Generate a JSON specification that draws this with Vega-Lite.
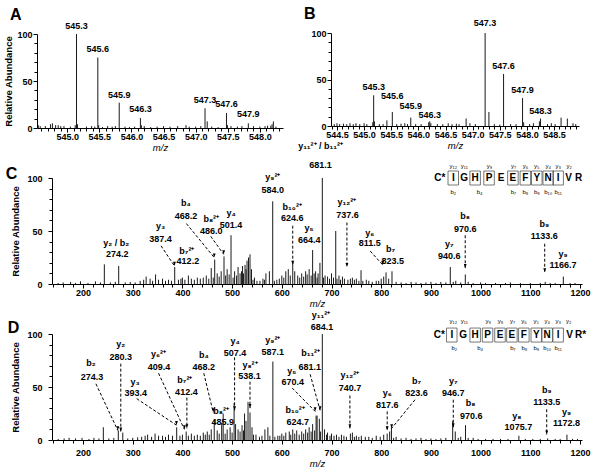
{
"$schema":"https://vega.github.io/schema/vega-lite/v6.json",
"width":600,"height":471,"autosize":{"type":"none"},"padding":0,
"config":{"font":"Liberation Sans","view":{"stroke":null},"axis":{"grid":false,"domainColor":"#000","tickColor":"#000","labelColor":"#000","titleColor":"#000","labelFontSize":9,"labelFontWeight":"bold","titleFontSize":9.5,"titleFontWeight":"bold","labelFlush":false,"labelOverlap":false,"tickSize":4,"domainWidth":1,"tickWidth":1}},
"datasets":{
"pa":[{"mz":545.145,"ab":100},{"mz":545.16,"ab":4},{"mz":545.125,"ab":3},{"mz":545.477,"ab":75},{"mz":545.49,"ab":3},{"mz":545.81,"ab":27},{"mz":546.14,"ab":10.6},{"mz":546.155,"ab":3},{"mz":547.146,"ab":21},{"mz":547.18,"ab":7},{"mz":547.48,"ab":16},{"mz":547.495,"ab":3},{"mz":547.82,"ab":5},{"mz":548.21,"ab":7},{"mz":548.19,"ab":4},{"mz":548.17,"ab":2.5},{"mz":544.55,"ab":3},{"mz":544.58,"ab":2},{"mz":544.66,"ab":2},{"mz":544.74,"ab":4},{"mz":544.77,"ab":5},{"mz":544.82,"ab":3},{"mz":544.86,"ab":3},{"mz":544.9,"ab":2},{"mz":544.95,"ab":2},{"mz":545.05,"ab":1.5},{"mz":545.3,"ab":1.5},{"mz":545.38,"ab":2},{"mz":545.43,"ab":1.5},{"mz":545.55,"ab":1},{"mz":545.63,"ab":2},{"mz":545.7,"ab":1.5},{"mz":545.75,"ab":2},{"mz":545.9,"ab":1.5},{"mz":545.97,"ab":1},{"mz":546.05,"ab":1.5},{"mz":546.2,"ab":2},{"mz":546.3,"ab":1},{"mz":546.4,"ab":1.5},{"mz":546.5,"ab":2},{"mz":546.6,"ab":1.5},{"mz":546.72,"ab":2},{"mz":546.85,"ab":3},{"mz":546.9,"ab":1.5},{"mz":547.0,"ab":1.5},{"mz":547.08,"ab":2},{"mz":547.25,"ab":1.5},{"mz":547.35,"ab":1},{"mz":547.55,"ab":2},{"mz":547.65,"ab":1.5},{"mz":547.72,"ab":2},{"mz":547.9,"ab":2},{"mz":548.0,"ab":1.5},{"mz":548.08,"ab":2},{"mz":548.12,"ab":2.5},{"mz":548.25,"ab":1.5}],
"pb":[{"mz":545.176,"ab":33},{"mz":545.19,"ab":5},{"mz":545.16,"ab":4},{"mz":545.42,"ab":6},{"mz":545.52,"ab":15},{"mz":545.86,"ab":9},{"mz":546.21,"ab":5},{"mz":546.19,"ab":4},{"mz":546.23,"ab":3},{"mz":546.88,"ab":8},{"mz":547.23,"ab":100},{"mz":547.3,"ab":15},{"mz":547.57,"ab":56},{"mz":547.92,"ab":30},{"mz":547.94,"ab":4},{"mz":548.25,"ab":8},{"mz":548.23,"ab":5},{"mz":548.63,"ab":9},{"mz":548.745,"ab":8},{"mz":544.45,"ab":2},{"mz":544.5,"ab":3},{"mz":544.55,"ab":2},{"mz":544.62,"ab":2.5},{"mz":544.68,"ab":2},{"mz":544.74,"ab":3},{"mz":544.8,"ab":2},{"mz":544.85,"ab":3},{"mz":544.92,"ab":2},{"mz":545.0,"ab":3},{"mz":545.05,"ab":2},{"mz":545.28,"ab":2},{"mz":545.35,"ab":2},{"mz":545.6,"ab":2},{"mz":545.68,"ab":2.5},{"mz":545.75,"ab":3},{"mz":545.8,"ab":2},{"mz":545.95,"ab":2},{"mz":546.05,"ab":2},{"mz":546.35,"ab":2},{"mz":546.45,"ab":2},{"mz":546.55,"ab":3},{"mz":546.62,"ab":2},{"mz":546.7,"ab":2.5},{"mz":546.75,"ab":2},{"mz":546.95,"ab":3},{"mz":547.05,"ab":2},{"mz":547.4,"ab":2},{"mz":547.5,"ab":1.5},{"mz":547.7,"ab":2},{"mz":547.8,"ab":2},{"mz":548.05,"ab":2},{"mz":548.12,"ab":3},{"mz":548.38,"ab":2},{"mz":548.45,"ab":3},{"mz":548.52,"ab":2},{"mz":548.85,"ab":3},{"mz":548.9,"ab":2}],
"pc":[{"mz":150,"ab":1},{"mz":160,"ab":1.5},{"mz":175,"ab":2},{"mz":185,"ab":1},{"mz":195,"ab":2.5},{"mz":210,"ab":1},{"mz":225,"ab":2.5},{"mz":235,"ab":1.5},{"mz":242.9,"ab":18.5},{"mz":255,"ab":1.5},{"mz":265,"ab":2},{"mz":271.8,"ab":17},{"mz":285,"ab":1.5},{"mz":295,"ab":2},{"mz":305,"ab":1.5},{"mz":315,"ab":3},{"mz":322,"ab":4},{"mz":327,"ab":7},{"mz":335,"ab":5},{"mz":340,"ab":3},{"mz":346,"ab":9},{"mz":352,"ab":4},{"mz":360,"ab":5},{"mz":366,"ab":3},{"mz":372,"ab":4},{"mz":378,"ab":3},{"mz":384.5,"ab":16},{"mz":392,"ab":4},{"mz":397,"ab":5},{"mz":400,"ab":6},{"mz":405,"ab":4},{"mz":412,"ab":8},{"mz":418,"ab":5},{"mz":424,"ab":4},{"mz":430,"ab":6},{"mz":436,"ab":5},{"mz":442,"ab":6},{"mz":448,"ab":8},{"mz":453,"ab":5},{"mz":458,"ab":15},{"mz":462,"ab":6},{"mz":465,"ab":23},{"mz":470,"ab":10},{"mz":474,"ab":7},{"mz":478,"ab":12},{"mz":483.7,"ab":26},{"mz":487,"ab":8},{"mz":490,"ab":14},{"mz":494,"ab":9},{"mz":497.8,"ab":46},{"mz":502,"ab":6},{"mz":505,"ab":12},{"mz":509,"ab":8},{"mz":512,"ab":16},{"mz":516,"ab":10},{"mz":519,"ab":12},{"mz":521,"ab":17},{"mz":523,"ab":10},{"mz":526,"ab":18},{"mz":528,"ab":14},{"mz":530,"ab":22},{"mz":533,"ab":25},{"mz":536,"ab":28},{"mz":539,"ab":14},{"mz":542,"ab":4},{"mz":545,"ab":6},{"mz":550,"ab":3},{"mz":556,"ab":3},{"mz":562,"ab":5},{"mz":565,"ab":4},{"mz":568,"ab":10},{"mz":575,"ab":12},{"mz":581.7,"ab":78},{"mz":585,"ab":3},{"mz":590,"ab":4},{"mz":595,"ab":5},{"mz":600,"ab":8},{"mz":604,"ab":6},{"mz":608,"ab":12},{"mz":613,"ab":14},{"mz":617,"ab":8},{"mz":622,"ab":20},{"mz":626,"ab":12},{"mz":632,"ab":8},{"mz":636,"ab":6},{"mz":640,"ab":10},{"mz":644,"ab":7},{"mz":648,"ab":12},{"mz":651,"ab":9},{"mz":655,"ab":14},{"mz":659,"ab":8},{"mz":662,"ab":32},{"mz":665,"ab":10},{"mz":668,"ab":12},{"mz":671,"ab":6},{"mz":673,"ab":10},{"mz":676.7,"ab":20},{"mz":681.5,"ab":100},{"mz":684,"ab":6},{"mz":687,"ab":8},{"mz":692,"ab":7},{"mz":696,"ab":5},{"mz":700,"ab":10},{"mz":704,"ab":6},{"mz":708.5,"ab":50},{"mz":711,"ab":5},{"mz":715,"ab":8},{"mz":718,"ab":4},{"mz":722,"ab":7},{"mz":726,"ab":5},{"mz":733,"ab":4},{"mz":738,"ab":5},{"mz":742,"ab":6},{"mz":746,"ab":4},{"mz":750,"ab":5},{"mz":755,"ab":3},{"mz":759.4,"ab":13},{"mz":763,"ab":3},{"mz":770,"ab":4},{"mz":775,"ab":3},{"mz":782,"ab":2},{"mz":790,"ab":3},{"mz":795,"ab":3},{"mz":800,"ab":5},{"mz":805,"ab":7},{"mz":809.7,"ab":11},{"mz":815,"ab":5},{"mz":821.7,"ab":12},{"mz":830,"ab":2},{"mz":840,"ab":1.5},{"mz":850,"ab":1},{"mz":860,"ab":2},{"mz":870,"ab":1.5},{"mz":880,"ab":1},{"mz":890,"ab":1.5},{"mz":900,"ab":2},{"mz":910,"ab":1},{"mz":920,"ab":2},{"mz":930,"ab":1.5},{"mz":939,"ab":16},{"mz":945,"ab":2},{"mz":950,"ab":3},{"mz":960,"ab":1.5},{"mz":969.2,"ab":9},{"mz":975,"ab":2},{"mz":985,"ab":1},{"mz":1000,"ab":1.5},{"mz":1010,"ab":1},{"mz":1030,"ab":1},{"mz":1050,"ab":1},{"mz":1060,"ab":1.5},{"mz":1080,"ab":1},{"mz":1100,"ab":1},{"mz":1120,"ab":1},{"mz":1130,"ab":2},{"mz":1140,"ab":1},{"mz":1150,"ab":1},{"mz":1166.4,"ab":7},{"mz":1180,"ab":1},{"mz":1190,"ab":1}],
"pd":[{"mz":150,"ab":1},{"mz":162,"ab":1.5},{"mz":172,"ab":2},{"mz":185,"ab":1.5},{"mz":198,"ab":2},{"mz":212,"ab":1},{"mz":222,"ab":2},{"mz":232,"ab":1.5},{"mz":240.9,"ab":12},{"mz":252,"ab":1.5},{"mz":262,"ab":2},{"mz":271,"ab":9},{"mz":280,"ab":7},{"mz":290,"ab":1.5},{"mz":300,"ab":2},{"mz":310,"ab":2.5},{"mz":318,"ab":3},{"mz":325,"ab":4},{"mz":330,"ab":5},{"mz":338,"ab":3},{"mz":345,"ab":6},{"mz":352,"ab":4},{"mz":360,"ab":4},{"mz":366,"ab":3},{"mz":372,"ab":5},{"mz":380,"ab":4},{"mz":388.5,"ab":12},{"mz":395,"ab":4},{"mz":400,"ab":5},{"mz":407.6,"ab":8},{"mz":412,"ab":4},{"mz":418,"ab":6},{"mz":424,"ab":4},{"mz":430,"ab":5},{"mz":436,"ab":4},{"mz":442,"ab":7},{"mz":446,"ab":5},{"mz":450,"ab":8},{"mz":454,"ab":5},{"mz":458,"ab":10},{"mz":464,"ab":19},{"mz":470,"ab":9},{"mz":474,"ab":6},{"mz":479,"ab":16},{"mz":482,"ab":25},{"mz":486,"ab":6},{"mz":490,"ab":10},{"mz":496,"ab":12},{"mz":500,"ab":7},{"mz":504,"ab":35},{"mz":507,"ab":15},{"mz":512,"ab":10},{"mz":516,"ab":8},{"mz":520,"ab":14},{"mz":523,"ab":9},{"mz":525,"ab":25},{"mz":528,"ab":18},{"mz":532,"ab":36},{"mz":536,"ab":26},{"mz":540,"ab":12},{"mz":543,"ab":5},{"mz":548,"ab":5},{"mz":555,"ab":3},{"mz":560,"ab":4},{"mz":566,"ab":10},{"mz":572,"ab":12},{"mz":576,"ab":4},{"mz":582,"ab":74},{"mz":586,"ab":3},{"mz":592,"ab":4},{"mz":596,"ab":4},{"mz":600,"ab":6},{"mz":604,"ab":4},{"mz":608,"ab":7},{"mz":615,"ab":8},{"mz":618,"ab":5},{"mz":622,"ab":10},{"mz":626,"ab":6},{"mz":630,"ab":9},{"mz":635,"ab":5},{"mz":640,"ab":8},{"mz":644,"ab":6},{"mz":648,"ab":10},{"mz":652,"ab":7},{"mz":655,"ab":12},{"mz":659,"ab":8},{"mz":662,"ab":15},{"mz":666,"ab":9},{"mz":669,"ab":23},{"mz":671,"ab":23},{"mz":675.5,"ab":20},{"mz":678,"ab":8},{"mz":681.5,"ab":100},{"mz":686,"ab":10},{"mz":690,"ab":5},{"mz":692,"ab":7},{"mz":697,"ab":4},{"mz":700,"ab":6},{"mz":705,"ab":4},{"mz":710,"ab":5},{"mz":715,"ab":3},{"mz":720,"ab":5},{"mz":725,"ab":4},{"mz":730,"ab":3},{"mz":738,"ab":6},{"mz":742,"ab":7},{"mz":746,"ab":3},{"mz":750,"ab":4},{"mz":755,"ab":3},{"mz":760,"ab":4},{"mz":768,"ab":3},{"mz":775,"ab":3},{"mz":782,"ab":2},{"mz":790,"ab":4},{"mz":798,"ab":3},{"mz":805,"ab":5},{"mz":812,"ab":6},{"mz":817,"ab":8},{"mz":820.6,"ab":12},{"mz":825,"ab":2},{"mz":830,"ab":3},{"mz":840,"ab":1.5},{"mz":850,"ab":2},{"mz":860,"ab":1},{"mz":870,"ab":1.5},{"mz":880,"ab":2},{"mz":890,"ab":1},{"mz":900,"ab":1.5},{"mz":910,"ab":1},{"mz":920,"ab":1.5},{"mz":930,"ab":2},{"mz":943.8,"ab":18},{"mz":949,"ab":8},{"mz":955,"ab":2},{"mz":960,"ab":3},{"mz":969.6,"ab":14},{"mz":975,"ab":2},{"mz":985,"ab":2},{"mz":995,"ab":1},{"mz":1010,"ab":1},{"mz":1025,"ab":1},{"mz":1040,"ab":1},{"mz":1055,"ab":1},{"mz":1077,"ab":4},{"mz":1090,"ab":1},{"mz":1105,"ab":1},{"mz":1120,"ab":1},{"mz":1135,"ab":1.5},{"mz":1150,"ab":1},{"mz":1160,"ab":1},{"mz":1173.7,"ab":5},{"mz":1185,"ab":1},{"mz":1195,"ab":1}],
"la":[{"x":545.145,"y":108.5,"t":"545.3"},{"x":545.477,"y":83.7,"t":"545.6"},{"x":545.81,"y":35,"t":"545.9"},{"x":546.14,"y":19.9,"t":"546.3"},{"x":547.146,"y":29.8,"t":"547.3"},{"x":547.48,"y":25.2,"t":"547.6"},{"x":547.82,"y":14.5,"t":"547.9"},{"x":544.2,"y":120,"t":"A","p":1}],
"lb":[{"x":547.23,"y":110.8,"t":"547.3"},{"x":547.57,"y":64.8,"t":"547.6"},{"x":547.92,"y":39,"t":"547.9"},{"x":545.176,"y":42,"t":"545.3"},{"x":545.52,"y":32,"t":"545.6"},{"x":545.86,"y":21.2,"t":"545.9"},{"x":546.21,"y":12.2,"t":"546.3"},{"x":548.25,"y":15.8,"t":"548.3"},{"x":544.0,"y":120,"t":"B","p":1}],
"lc":[{"x":267,"y":39,"t":"y₂ / b₂"},{"x":269,"y":28,"t":"274.2"},{"x":356,"y":54.7,"t":"y₃"},{"x":356,"y":42,"t":"387.4"},{"x":409,"y":31.4,"t":"b₇²⁺"},{"x":411,"y":22,"t":"412.2"},{"x":407,"y":76,"t":"b₄"},{"x":407,"y":64,"t":"468.2"},{"x":458,"y":61,"t":"b₈²⁺"},{"x":458,"y":50,"t":"486.0"},{"x":498,"y":67,"t":"y₄"},{"x":498,"y":55.6,"t":"501.4"},{"x":582,"y":101,"t":"y₉²⁺"},{"x":582,"y":89,"t":"584.0"},{"x":621,"y":73,"t":"b₁₀²⁺"},{"x":621,"y":62,"t":"624.6"},{"x":655,"y":52.5,"t":"y₅"},{"x":655,"y":41.5,"t":"664.4"},{"x":678,"y":130,"t":"y₁₁²⁺ / b₁₁²⁺"},{"x":678,"y":112,"t":"681.1"},{"x":731,"y":77,"t":"y₁₂²⁺"},{"x":732,"y":65.5,"t":"737.6"},{"x":777,"y":48.4,"t":"y₆"},{"x":777,"y":38.5,"t":"811.5"},{"x":819,"y":33,"t":"b₇"},{"x":823,"y":21.8,"t":"823.5"},{"x":937,"y":37.5,"t":"y₇"},{"x":937,"y":26.4,"t":"940.6"},{"x":969,"y":64.5,"t":"b₈"},{"x":969,"y":52.3,"t":"970.6"},{"x":1128,"y":57,"t":"b₉"},{"x":1128,"y":45,"t":"1133.6"},{"x":1166,"y":28.7,"t":"y₉"},{"x":1166,"y":18.3,"t":"1166.7"},{"x":56,"y":104,"t":"C","p":1}],
"ld":[{"x":216,"y":73,"t":"b₂"},{"x":218,"y":59,"t":"274.3"},{"x":276,"y":90.3,"t":"y₂"},{"x":276,"y":78.3,"t":"280.3"},{"x":305,"y":55,"t":"y₃"},{"x":306,"y":44,"t":"393.4"},{"x":352,"y":80.7,"t":"y₆²⁺"},{"x":353,"y":69,"t":"409.4"},{"x":405,"y":56.6,"t":"b₇²⁺"},{"x":408,"y":45,"t":"412.4"},{"x":443,"y":80.5,"t":"b₄"},{"x":443,"y":69,"t":"468.2"},{"x":478,"y":27.7,"t":"b₈²⁺"},{"x":481,"y":17.3,"t":"485.9"},{"x":506,"y":93,"t":"y₄"},{"x":506,"y":82,"t":"507.4"},{"x":536,"y":71,"t":"y₈²⁺"},{"x":535,"y":60.5,"t":"538.1"},{"x":582,"y":94,"t":"y₉²⁺"},{"x":582,"y":83,"t":"587.1"},{"x":620,"y":65,"t":"y₅"},{"x":622,"y":54.4,"t":"670.4"},{"x":627,"y":28.3,"t":"b₁₀²⁺"},{"x":632,"y":17.3,"t":"624.7"},{"x":658,"y":81.8,"t":"b₁₁²⁺"},{"x":656,"y":68.6,"t":"681.1"},{"x":679,"y":118,"t":"y₁₁²⁺"},{"x":681,"y":106.3,"t":"684.1"},{"x":737,"y":61.5,"t":"y₁₂²⁺"},{"x":737,"y":48.8,"t":"740.7"},{"x":812,"y":44,"t":"y₆"},{"x":812,"y":33,"t":"817.6"},{"x":871,"y":56,"t":"b₇"},{"x":871,"y":44.6,"t":"823.6"},{"x":945,"y":56,"t":"y₇"},{"x":945,"y":44.6,"t":"946.7"},{"x":980,"y":34.6,"t":"b₈"},{"x":981,"y":22.6,"t":"970.6"},{"x":1073,"y":22.6,"t":"y₈"},{"x":1076,"y":12,"t":"1075.7"},{"x":1133,"y":47.2,"t":"b₉"},{"x":1133,"y":35.6,"t":"1133.5"},{"x":1173,"y":26.7,"t":"y₉"},{"x":1173,"y":15.7,"t":"1172.8"},{"x":60,"y":106,"t":"D","p":1}],
"ac":[{"x1":357,"y1":36,"x2":384,"y2":17},{"x1":408,"y1":57,"x2":464,"y2":25},{"x1":457,"y1":45,"x2":483,"y2":28},{"x1":622,"y1":55,"x2":622,"y2":18},{"x1":731,"y1":58,"x2":731,"y2":16},{"x1":778,"y1":31,"x2":803,"y2":18},{"x1":969,"y1":46,"x2":969,"y2":15},{"x1":1129,"y1":38,"x2":1129,"y2":11}],
"ad":[{"x1":226,"y1":53,"x2":270,"y2":9},{"x1":276,"y1":72,"x2":276,"y2":8},{"x1":308,"y1":39,"x2":388,"y2":14},{"x1":352,"y1":63,"x2":404,"y2":10},{"x1":409,"y1":40,"x2":409,"y2":11},{"x1":443,"y1":63,"x2":462,"y2":26},{"x1":505,"y1":78,"x2":505,"y2":28},{"x1":536,"y1":55,"x2":536,"y2":30},{"x1":621,"y1":49,"x2":667,"y2":27},{"x1":657,"y1":62,"x2":677,"y2":28},{"x1":737,"y1":42,"x2":737,"y2":11},{"x1":812,"y1":27,"x2":812,"y2":9},{"x1":868,"y1":38,"x2":821,"y2":11},{"x1":945,"y1":38,"x2":945,"y2":12},{"x1":1133,"y1":29,"x2":1133,"y2":5}],
"sc":[{"x":918,"t":"C*","b":false},{"x":945,"t":"I","b":true},{"x":967,"t":"G","b":false},{"x":989,"t":"H","b":true},{"x":1017,"t":"P","b":true},{"x":1041,"t":"E","b":false},{"x":1065,"t":"E","b":true},{"x":1090,"t":"F","b":true},{"x":1113,"t":"Y","b":true},{"x":1136,"t":"N","b":true},{"x":1156,"t":"I","b":true},{"x":1177,"t":"V","b":false},{"x":1197,"t":"R","b":false}],
"sd":[{"x":917,"t":"C*","b":false},{"x":942,"t":"I","b":true},{"x":965,"t":"G","b":false},{"x":989,"t":"H","b":true},{"x":1014,"t":"P","b":true},{"x":1039,"t":"E","b":true},{"x":1063,"t":"E","b":true},{"x":1087,"t":"F","b":true},{"x":1112,"t":"Y","b":true},{"x":1134,"t":"N","b":true},{"x":1156,"t":"I","b":true},{"x":1179,"t":"V","b":false},{"x":1201,"t":"R*","b":false}],
"tc":[{"x":945,"y":111,"t":"y₁₂"},{"x":967,"y":111,"t":"y₁₁"},{"x":1018,"y":111,"t":"y₉"},{"x":1066,"y":111,"t":"y₇"},{"x":1090,"y":111,"t":"y₆"},{"x":1113,"y":111,"t":"y₅"},{"x":1136,"y":111,"t":"y₄"},{"x":1156,"y":111,"t":"y₃"},{"x":1178,"y":111,"t":"y₂"},{"x":945,"y":86.5,"t":"b₂"},{"x":998,"y":86.5,"t":"b₄"},{"x":1066,"y":86.5,"t":"b₇"},{"x":1090,"y":86.5,"t":"b₈"},{"x":1113,"y":86.5,"t":"b₉"},{"x":1136,"y":86.5,"t":"b₁₀"},{"x":1156,"y":86.5,"t":"b₁₁"}],
"td":[{"x":945,"y":112,"t":"y₁₂"},{"x":967,"y":112,"t":"y₁₁"},{"x":1015,"y":112,"t":"y₉"},{"x":1040,"y":112,"t":"y₈"},{"x":1064,"y":112,"t":"y₇"},{"x":1087,"y":112,"t":"y₆"},{"x":1112,"y":112,"t":"y₅"},{"x":1134,"y":112,"t":"y₄"},{"x":1156,"y":112,"t":"y₃"},{"x":1177,"y":112,"t":"y₂"},{"x":947,"y":87,"t":"b₂"},{"x":999,"y":87,"t":"b₄"},{"x":1065,"y":87,"t":"b₇"},{"x":1088,"y":87,"t":"b₈"},{"x":1112,"y":87,"t":"b₉"},{"x":1134,"y":87,"t":"b₁₀"},{"x":1156,"y":87,"t":"b₁₁"}]
},
"resolve":{"scale":{"x":"independent","y":"independent"},"axis":{"x":"independent","y":"independent"}},
"layer":[
 {"resolve":{"axis":{"x":"independent","y":"independent"}},"layer":[
  {"data":{"name":"pa"},"mark":{"type":"rule","color":"#1a1a1a","strokeWidth":1},"encoding":{
   "x":{"field":"mz","type":"quantitative","scale":{"domain":[544.53,548.36],"range":[37,283],"nice":false,"zero":false},"axis":{"orient":"bottom","offset":-343,"title":"m/z","titleFontStyle":"italic","titleFontWeight":"normal","titlePadding":1,"labelPadding":0,"values":[545,545.5,546,546.5,547,547.5,548],"format":".1f"}},
   "y":{"field":"ab","type":"quantitative","scale":{"domain":[0,100],"range":[128,34],"nice":false},"axis":{"orient":"left","offset":-37,"title":"Relative Abundance","titlePadding":3,"labelPadding":1,"values":[0,50,100]}},
   "y2":{"datum":0}}},
  {"data":{"name":"la"},"transform":[{"filter":"!datum.p"}],"mark":{"type":"text","fontSize":9,"fontWeight":"bold"},"encoding":{"x":{"field":"x","type":"quantitative","axis":{"orient":"bottom","offset":-343,"title":null,"labels":false,"domain":false,"tickSize":3,"values":[544.6,544.7,544.8,544.9,545.1,545.2,545.3,545.4,545.6,545.7,545.8,545.9,546.1,546.2,546.3,546.4,546.6,546.7,546.8,546.9,547.1,547.2,547.3,547.4,547.6,547.7,547.8,547.9,548.1,548.2,548.3]}},"y":{"field":"y","type":"quantitative","axis":{"orient":"left","offset":-37,"title":null,"labels":false,"domain":false,"tickSize":3,"values":[10,20,30,40,60,70,80,90]}},"text":{"field":"t"}}},
  {"data":{"name":"la"},"transform":[{"filter":"datum.p"}],"mark":{"type":"text","fontSize":16,"fontWeight":"bold"},"encoding":{"x":{"field":"x","type":"quantitative","axis":null},"y":{"field":"y","type":"quantitative","axis":null},"text":{"field":"t"}}}
 ]},
 {"resolve":{"axis":{"x":"independent","y":"independent"}},"layer":[
  {"data":{"name":"pb"},"mark":{"type":"rule","color":"#1a1a1a","strokeWidth":1},"encoding":{
   "x":{"field":"mz","type":"quantitative","scale":{"domain":[544.39,548.96],"range":[331,579],"nice":false,"zero":false},"axis":{"orient":"bottom","offset":-345,"title":"m/z","titleFontStyle":"italic","titleFontWeight":"normal","titlePadding":1,"labelPadding":0,"values":[544.5,545,545.5,546,546.5,547,547.5,548,548.5],"format":".1f"}},
   "y":{"field":"ab","type":"quantitative","scale":{"domain":[0,100],"range":[126,33],"nice":false},"axis":{"orient":"left","offset":-331,"title":null,"labelPadding":1,"values":[0,50,100]}},
   "y2":{"datum":0}}},
  {"data":{"name":"lb"},"transform":[{"filter":"!datum.p"}],"mark":{"type":"text","fontSize":9,"fontWeight":"bold"},"encoding":{"x":{"field":"x","type":"quantitative","axis":{"orient":"bottom","offset":-345,"title":null,"labels":false,"domain":false,"tickSize":3,"values":[544.4,544.6,544.7,544.8,544.9,545.1,545.2,545.3,545.4,545.6,545.7,545.8,545.9,546.1,546.2,546.3,546.4,546.6,546.7,546.8,546.9,547.1,547.2,547.3,547.4,547.6,547.7,547.8,547.9,548.1,548.2,548.3,548.4,548.6,548.7,548.8,548.9]}},"y":{"field":"y","type":"quantitative","axis":{"orient":"left","offset":-331,"title":null,"labels":false,"domain":false,"tickSize":3,"values":[10,20,30,40,60,70,80,90]}},"text":{"field":"t"}}},
  {"data":{"name":"lb"},"transform":[{"filter":"datum.p"}],"mark":{"type":"text","fontSize":16,"fontWeight":"bold"},"encoding":{"x":{"field":"x","type":"quantitative","axis":null},"y":{"field":"y","type":"quantitative","axis":null},"text":{"field":"t"}}}
 ]},
 {"resolve":{"axis":{"x":"independent","y":"independent"}},"layer":[
  {"data":{"name":"pc"},"mark":{"type":"rule","color":"#1a1a1a","strokeWidth":1},"encoding":{
   "x":{"field":"mz","type":"quantitative","scale":{"domain":[137.6,1204],"range":[52,582],"nice":false,"zero":false},"axis":{"orient":"bottom","offset":-187,"title":"m/z","titleFontStyle":"italic","titleFontWeight":"normal","titlePadding":1,"labelPadding":0,"values":[200,300,400,500,600,700,800,900,1000,1100,1200],"format":"d"}},
   "y":{"field":"ab","type":"quantitative","scale":{"domain":[0,100],"range":[284,178],"nice":false},"axis":{"orient":"left","offset":-52,"title":"Relative Abundance","titlePadding":6,"labelPadding":6,"values":[0,50,100]}},
   "y2":{"datum":0}}},
  {"data":{"name":"lc"},"transform":[{"filter":"!datum.p"}],"mark":{"type":"text","fontSize":9,"fontWeight":"bold"},"encoding":{"x":{"field":"x","type":"quantitative","axis":{"orient":"bottom","offset":-187,"title":null,"labels":false,"domain":false,"tickSize":3,"values":[140,160,180,220,240,260,280,320,340,360,380,420,440,460,480,520,540,560,580,620,640,660,680,720,740,760,780,820,840,860,880,920,940,960,980,1020,1040,1060,1080,1120,1140,1160,1180]}},"y":{"field":"y","type":"quantitative","axis":{"orient":"left","offset":-52,"title":null,"labels":false,"domain":false,"tickSize":3,"values":[10,20,30,40,60,70,80,90]}},"text":{"field":"t"}}},
  {"data":{"name":"ac"},"mark":{"type":"rule","color":"#000","strokeWidth":1,"strokeDash":[3,2]},"encoding":{"x":{"field":"x1","type":"quantitative","axis":null},"y":{"field":"y1","type":"quantitative","axis":null},"x2":{"field":"x2"},"y2":{"field":"y2"}}},
  {"data":{"name":"ac"},"mark":{"type":"point","shape":"M0,0L-0.45,-1.3L0.45,-1.3Z","filled":true,"color":"#000","opacity":1,"size":40},"encoding":{"x":{"field":"x2","type":"quantitative","axis":null},"y":{"field":"y2","type":"quantitative","axis":null}}},
  {"data":{"name":"lc"},"transform":[{"filter":"datum.p"}],"mark":{"type":"text","fontSize":16,"fontWeight":"bold"},"encoding":{"x":{"field":"x","type":"quantitative","axis":null},"y":{"field":"y","type":"quantitative","axis":null},"text":{"field":"t"}}},
  {"data":{"name":"sc"},"transform":[{"filter":"datum.b"}],"mark":{"type":"point","shape":"M-0.75,-1L0.75,-1L0.75,1L-0.75,1Z","filled":false,"stroke":"#555","strokeWidth":0.8,"opacity":1,"size":196},"encoding":{"x":{"field":"x","type":"quantitative","axis":null},"y":{"datum":100,"axis":null}}},
  {"data":{"name":"sc"},"mark":{"type":"text","fontSize":10,"fontWeight":"bold"},"encoding":{"x":{"field":"x","type":"quantitative","axis":null},"y":{"datum":100,"axis":null},"text":{"field":"t"}}},
  {"data":{"name":"tc"},"mark":{"type":"text","fontSize":6,"color":"#000"},"encoding":{"x":{"field":"x","type":"quantitative","axis":null},"y":{"field":"y","type":"quantitative","axis":null},"text":{"field":"t"}}}
 ]},
 {"resolve":{"axis":{"x":"independent","y":"independent"}},"layer":[
  {"data":{"name":"pd"},"mark":{"type":"rule","color":"#1a1a1a","strokeWidth":1},"encoding":{
   "x":{"field":"mz","type":"quantitative","scale":{"domain":[137.6,1204],"range":[52,582],"nice":false,"zero":false},"axis":{"orient":"bottom","offset":-31,"title":"m/z","titleFontStyle":"italic","titleFontWeight":"normal","titlePadding":1,"labelPadding":4,"values":[200,300,400,500,600,700,800,900,1000,1100,1200],"format":"d"}},
   "y":{"field":"ab","type":"quantitative","scale":{"domain":[0,100],"range":[440,334],"nice":false},"axis":{"orient":"left","offset":-52,"title":"Relative Abundance","titlePadding":6,"labelPadding":6,"values":[0,50,100]}},
   "y2":{"datum":0}}},
  {"data":{"name":"ld"},"transform":[{"filter":"!datum.p"}],"mark":{"type":"text","fontSize":9,"fontWeight":"bold"},"encoding":{"x":{"field":"x","type":"quantitative","axis":{"orient":"bottom","offset":-31,"title":null,"labels":false,"domain":false,"tickSize":3,"values":[140,160,180,220,240,260,280,320,340,360,380,420,440,460,480,520,540,560,580,620,640,660,680,720,740,760,780,820,840,860,880,920,940,960,980,1020,1040,1060,1080,1120,1140,1160,1180]}},"y":{"field":"y","type":"quantitative","axis":{"orient":"left","offset":-52,"title":null,"labels":false,"domain":false,"tickSize":3,"values":[10,20,30,40,60,70,80,90]}},"text":{"field":"t"}}},
  {"data":{"name":"ad"},"mark":{"type":"rule","color":"#000","strokeWidth":1,"strokeDash":[3,2]},"encoding":{"x":{"field":"x1","type":"quantitative","axis":null},"y":{"field":"y1","type":"quantitative","axis":null},"x2":{"field":"x2"},"y2":{"field":"y2"}}},
  {"data":{"name":"ad"},"mark":{"type":"point","shape":"M0,0L-0.45,-1.3L0.45,-1.3Z","filled":true,"color":"#000","opacity":1,"size":40},"encoding":{"x":{"field":"x2","type":"quantitative","axis":null},"y":{"field":"y2","type":"quantitative","axis":null}}},
  {"data":{"name":"ld"},"transform":[{"filter":"datum.p"}],"mark":{"type":"text","fontSize":16,"fontWeight":"bold"},"encoding":{"x":{"field":"x","type":"quantitative","axis":null},"y":{"field":"y","type":"quantitative","axis":null},"text":{"field":"t"}}},
  {"data":{"name":"sd"},"transform":[{"filter":"datum.b"}],"mark":{"type":"point","shape":"M-0.75,-1L0.75,-1L0.75,1L-0.75,1Z","filled":false,"stroke":"#555","strokeWidth":0.8,"opacity":1,"size":196},"encoding":{"x":{"field":"x","type":"quantitative","axis":null},"y":{"datum":99,"axis":null}}},
  {"data":{"name":"sd"},"mark":{"type":"text","fontSize":10,"fontWeight":"bold"},"encoding":{"x":{"field":"x","type":"quantitative","axis":null},"y":{"datum":99,"axis":null},"text":{"field":"t"}}},
  {"data":{"name":"td"},"mark":{"type":"text","fontSize":6,"color":"#000"},"encoding":{"x":{"field":"x","type":"quantitative","axis":null},"y":{"field":"y","type":"quantitative","axis":null},"text":{"field":"t"}}}
 ]}
]
}
